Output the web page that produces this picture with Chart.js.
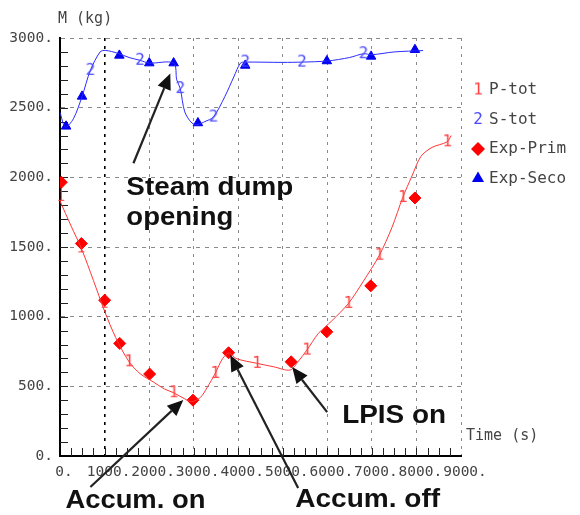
<!DOCTYPE html>
<html>
<head>
<meta charset="utf-8">
<script src="https://cdn.jsdelivr.net/npm/chart.js@4.4.1/dist/chart.umd.min.js"></script>
<style>
  html, body { margin: 0; padding: 0; background: #fff; }
  #wrap { width: 580px; height: 515px; }
</style>
</head>
<body>
<div id="wrap"><canvas id="massChart" width="580" height="515"></canvas></div>
<script>
// P-tot: primary side total mass (calculated)
const pTotTime = [0, 250, 480, 750, 1000, 1250, 1550, 1800, 2100, 2350, 2550, 2800, 2960, 3150, 3300, 3484, 3650, 3800, 3950, 4419, 4800, 5166, 5350, 5540, 5800, 6100, 6473, 6800, 7168, 7450, 7692, 7900, 8100, 8350, 8690, 8780];
const pTotMass = [1830, 1650, 1490, 1260, 1040, 850, 676, 590, 530, 480, 454, 410, 390, 420, 490, 593, 700, 740, 700, 665, 640, 617, 680, 760, 880, 970, 1095, 1250, 1441, 1640, 1855, 2010, 2150, 2215, 2255, 2300];
const pTotTagged = [1550, 2550, 3484, 4419, 5540, 6473, 7168, 7692, 8690];

// S-tot: secondary side total mass (calculated)
const sTotTime = [0, 120, 300, 495, 682, 900, 1018, 1300, 1550, 1794, 2000, 2550, 2620, 2699, 2800, 2960, 3100, 3250, 3444, 3700, 3900, 4050, 4157, 5000, 5428, 6000, 6500, 6809, 7000, 7500, 8150];
const sTotMass = [2466, 2360, 2420, 2580, 2768, 2900, 2911, 2890, 2860, 2840, 2820, 2820, 2700, 2637, 2470, 2390, 2380, 2400, 2433, 2580, 2720, 2820, 2827, 2825, 2827, 2835, 2860, 2887, 2880, 2900, 2910];
const sTotTagged = [682, 1794, 2699, 3444, 4157, 5428, 6809];

// measured values
const expPrimTime = [30, 480, 1002, 1340, 2012, 2984, 3784, 5188, 5988, 6975, 7966];
const expPrimMass = [1965, 1525, 1118, 808, 588, 401, 741, 676, 891, 1221, 1852];
const expPrimLow  = [130, 60, 50, 0, 0, 0, 0, 0, 0, 0, 0];
const expSecoTime = [137, 495, 1332, 2004, 2550, 3096, 4157, 5989, 6982, 7966];
const expSecoMass = [2366, 2581, 2875, 2820, 2820, 2390, 2803, 2835, 2868, 2916];

const pts = (xs, ys) => xs.map((x, i) => ({ x, y: ys[i] }));

const MONO = '"DejaVu Sans Mono", "Liberation Mono", monospace';
const RED = '#ff3535';
const BLUE = '#2a2aff';

// curve number drawn as the point marker
function glyph(ch, color) {
  const c = document.createElement('canvas');
  c.width = 12;
  c.height = 17;
  const g = c.getContext('2d');
  g.font = '16px ' + MONO;
  g.fillStyle = color;
  g.textAlign = 'center';
  g.textBaseline = 'middle';
  g.fillText(ch, 6, 9);
  return c;
}
const oneMark = glyph('1', '#ff4040');
const twoMark = glyph('2', '#4a4aff');

const notes = [
  { text: 'Steam dump', t: 1489, m: 1871, w: 167 },
  { text: 'opening', t: 1489, m: 1656, w: 107 },
  { text: 'Accum. on', t: 121, m: -373, w: 140 },
  { text: 'Accum. off', t: 5278, m: -366, w: 145 },
  { text: 'LPIS on', t: 6332, m: 237, w: 104 },
];
const arrows = [
  { from: [1648, 2101], to: [2475, 2746] },
  { from: [682, -222], to: [2767, 402] },
  { from: [5345, -229], to: [3821, 724] },
  { from: [5996, 315], to: [5211, 638] },
];

function arrow(ctx, x1, y1, x2, y2) {
  const a = Math.atan2(y2 - y1, x2 - x1);
  const head = 16, half = 7;
  const bx = x2 - head * Math.cos(a), by = y2 - head * Math.sin(a);
  ctx.beginPath();
  ctx.moveTo(x1, y1);
  ctx.lineTo(bx, by);
  ctx.stroke();
  ctx.beginPath();
  ctx.moveTo(x2, y2);
  ctx.lineTo(bx + half * Math.sin(a), by - half * Math.cos(a));
  ctx.lineTo(bx - half * Math.sin(a), by + half * Math.cos(a));
  ctx.closePath();
  ctx.fill();
}

// minor ticks and error bars under the curves
const underlay = {
  id: 'underlay',
  beforeDatasetsDraw(chart) {
    const { ctx, scales: { x, y } } = chart;
    ctx.save();
    ctx.strokeStyle = '#222';
    ctx.lineWidth = 1;
    ctx.beginPath();
    for (let v = 100; v < 3000; v += 100) {
      const py = Math.round(y.getPixelForValue(v)) + 0.5;
      ctx.moveTo(x.left, py);
      ctx.lineTo(x.left + 8, py);
    }
    for (let v = 250; v < 9000; v += 250) {
      const px = Math.round(x.getPixelForValue(v)) + 0.5;
      ctx.moveTo(px, y.bottom);
      ctx.lineTo(px, y.bottom - 8);
    }
    ctx.stroke();

    ctx.strokeStyle = RED;
    ctx.beginPath();
    expPrimTime.forEach((t, i) => {
      if (!expPrimLow[i]) return;
      const px = x.getPixelForValue(t);
      const top = y.getPixelForValue(expPrimMass[i]);
      const bot = y.getPixelForValue(expPrimMass[i] - expPrimLow[i]);
      ctx.moveTo(px, top);
      ctx.lineTo(px, bot);
      ctx.moveTo(px - 3, bot);
      ctx.lineTo(px + 3, bot);
    });
    ctx.stroke();
    ctx.restore();
  }
};

// axis titles, side legend and annotations
const overlay = {
  id: 'overlay',
  afterDraw(chart) {
    const { ctx, scales: { x, y } } = chart;
    ctx.save();
    ctx.fillStyle = '#444';
    ctx.font = '15px ' + MONO;
    ctx.textBaseline = 'middle';
    ctx.fillText('M (kg)', 58, 19);
    ctx.fillText('Time (s)', 466, 436);

    ctx.font = '16px ' + MONO;
    chart.data.datasets.forEach((ds, i) => {
      const ly = 90 + i * 29.5;
      ctx.fillStyle = ds.pointBackgroundColor || '#000';
      Chart.helpers.drawPoint(ctx, {
        pointStyle: ds.pointStyle, radius: ds.legendRadius, rotation: 0, borderWidth: 0
      }, 478, ly);
      ctx.fillStyle = '#444';
      ctx.fillText(ds.label, 489, ly);
    });

    ctx.fillStyle = '#111';
    ctx.strokeStyle = '#222';
    ctx.lineWidth = 2.2;
    arrows.forEach(a => {
      arrow(ctx,
        x.getPixelForValue(a.from[0]), y.getPixelForValue(a.from[1]),
        x.getPixelForValue(a.to[0]), y.getPixelForValue(a.to[1]));
    });

    ctx.font = 'bold 26px "Liberation Sans", Arial, sans-serif';
    ctx.textBaseline = 'alphabetic';
    notes.forEach(n => {
      const w = ctx.measureText(n.text).width;
      ctx.save();
      ctx.translate(x.getPixelForValue(n.t), y.getPixelForValue(n.m));
      ctx.scale(n.w / w, 1);
      ctx.fillText(n.text, 0, 0);
      ctx.restore();
    });
    ctx.restore();
  }
};

new Chart(document.getElementById('massChart'), {
  type: 'scatter',
  data: {
    datasets: [
      {
        label: 'P-tot',
        data: pts(pTotTime, pTotMass),
        showLine: true,
        borderColor: RED,
        borderWidth: 1,
        tension: 0.3,
        pointStyle: oneMark,
        legendRadius: 4,
        pointRadius: c => (c.raw && pTotTagged.includes(c.raw.x) ? 4 : 0),
      },
      {
        label: 'S-tot',
        data: pts(sTotTime, sTotMass),
        showLine: true,
        borderColor: BLUE,
        borderWidth: 1,
        tension: 0.3,
        pointStyle: twoMark,
        legendRadius: 4,
        pointRadius: c => (c.raw && sTotTagged.includes(c.raw.x) ? 4 : 0),
      },
      {
        label: 'Exp-Prim',
        data: pts(expPrimTime, expPrimMass),
        pointStyle: 'rectRot',
        pointRadius: 6,
        legendRadius: 7,
        pointBackgroundColor: '#ff0000',
        pointBorderColor: '#ff0000',
        pointBorderWidth: 1,
      },
      {
        label: 'Exp-Seco',
        data: pts(expSecoTime, expSecoMass),
        pointStyle: 'triangle',
        pointRadius: 5.5,
        legendRadius: 7,
        pointBackgroundColor: '#0000f0',
        pointBorderColor: '#0000f0',
        pointBorderWidth: 1,
      },
    ],
  },
  options: {
    responsive: false,
    animation: false,
    layout: { padding: { top: 38, right: 119, bottom: 0, left: 0 } },
    plugins: {
      legend: { display: false },
      tooltip: { enabled: false },
    },
    scales: {
      x: {
        type: 'linear',
        min: 0,
        max: 9000,
        afterFit: s => { s.height = 59; },
        ticks: {
          stepSize: 1000,
          autoSkip: false,
          maxRotation: 0,
          padding: 8,
          labelOffset: 4,
          color: '#444',
          font: { family: MONO, size: 14.5 },
          callback: v => v + '.',
        },
        grid: {
          drawTicks: false,
          color: c => (c.tick && c.tick.value === 1000 ? '#000' : '#8a8a8a'),
          lineWidth: c => (c.tick && c.tick.value === 1000 ? 1.6 : 1),
        },
        border: { display: true, color: '#000', width: 2, dash: [3, 5] },
      },
      y: {
        type: 'linear',
        min: 0,
        max: 3000,
        afterFit: s => { s.width = 60; },
        ticks: {
          stepSize: 500,
          padding: 7,
          color: '#444',
          font: { family: MONO, size: 14.5 },
          callback: v => v + '.',
        },
        grid: { drawTicks: false, color: '#8a8a8a', lineWidth: 1 },
        border: { display: true, color: '#000', width: 2, dash: [4, 5] },
      },
    },
  },
  plugins: [underlay, overlay],
});
</script>
</body>
</html>
